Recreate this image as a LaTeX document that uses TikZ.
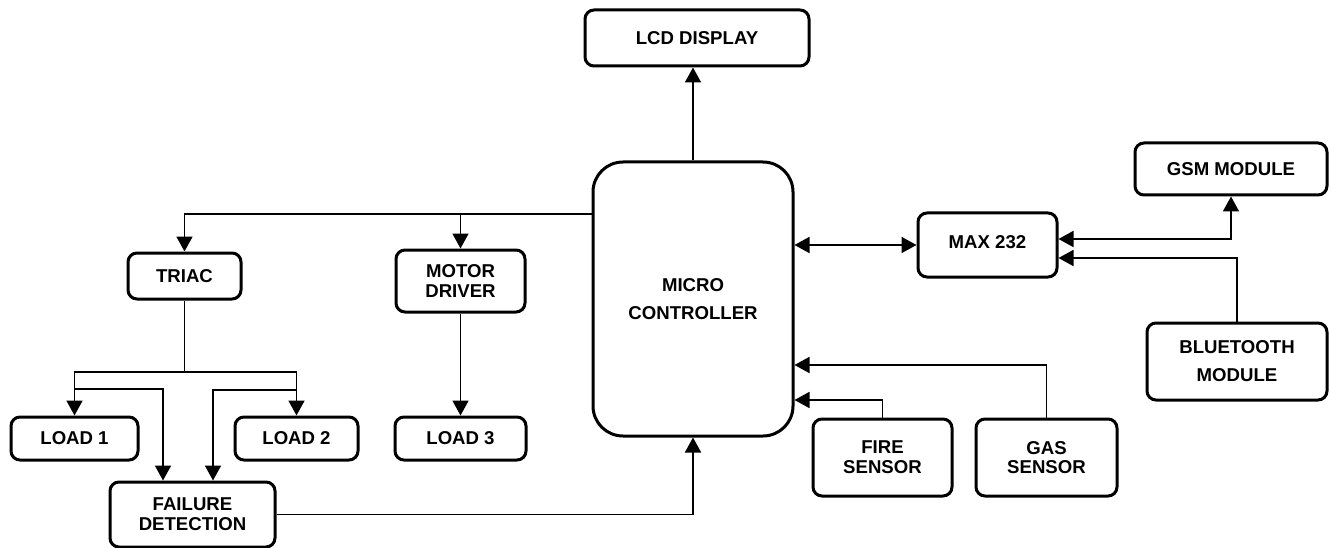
\documentclass[tikz,border=0pt]{standalone}
\usepackage{fontspec}
\setmainfont{Liberation Sans}
\usetikzlibrary{arrows.meta}
\tikzset{
  box/.style={draw, line width=3pt, rounded corners=9pt, align=center, inner sep=0pt,
    font=\bfseries\fontsize{18.6}{19.8}\selectfont},
  conn/.style={line width=1.8pt, -{Triangle[length=15pt,width=16pt]}},
  dconn/.style={line width=1.8pt, {Triangle[length=15pt,width=16pt]}-{Triangle[length=15pt,width=16pt]}},
  plain/.style={line width=1.8pt}
}
\begin{document}
\begin{tikzpicture}[x=1pt,y=-1pt]
\useasboundingbox[fill=white] (0,0) rectangle (1330,548);
% nodes
\node[box, minimum width=224pt, minimum height=56pt] (lcd) at (697,38) {LCD DISPLAY};
\node[box, rounded corners=30pt, minimum width=200pt, minimum height=274pt, font=\bfseries\fontsize{18.6}{28}\selectfont] (mc) at (693,299) {MICRO\\CONTROLLER};
\node[box, minimum width=139pt, minimum height=64pt] (max) at (987.5,245) {\raisebox{5pt}{MAX 232}};
\node[box, minimum width=192pt, minimum height=52pt] (gsm) at (1231,169) {GSM MODULE};
\node[box, minimum width=180pt, minimum height=77pt, font=\bfseries\fontsize{18.6}{28}\selectfont] (bt) at (1237,361.5) {BLUETOOTH\\MODULE};
\node[box, minimum width=139pt, minimum height=77pt] (fire) at (882.5,457.5) {FIRE\\SENSOR};
\node[box, minimum width=141pt, minimum height=77pt] (gas) at (1046.5,457.5) {GAS\\SENSOR};
\node[box, minimum width=113pt, minimum height=46pt] (triac) at (184.5,276) {TRIAC};
\node[box, minimum width=129pt, minimum height=62pt] (motor) at (460.5,281) {MOTOR\\DRIVER};
\node[box, minimum width=127pt, minimum height=43pt] (load1) at (74.5,438.5) {LOAD 1};
\node[box, minimum width=123pt, minimum height=43pt] (load2) at (296.5,438.5) {LOAD 2};
\node[box, minimum width=131pt, minimum height=43pt] (load3) at (460.5,438.5) {LOAD 3};
\node[box, minimum width=165pt, minimum height=65pt] (fail) at (192.5,514.5) {FAILURE\\DETECTION};
% connectors
\draw[conn] (mc.west |- 0,214) -| (triac.north);
\draw[conn] (motor.north |- 0,214) -- (motor.north);
\draw[conn] (motor.south) -- (load3.north);
\draw[plain] (triac.south) -- (triac.south |- 0,372) coordinate (tj);
\draw[conn] (tj) -| (load1.north);
\draw[conn] (tj) -| (load2.north);
\draw[conn] (load1.north |- 0,389) -| ([xshift=-29.5pt]fail.north);
\draw[conn] (load2.north |- 0,390) -| ([xshift=20.5pt]fail.north);
\draw[conn] (fail.east) -| (mc.south);
\draw[conn] (mc.north) -- (mc.north |- lcd.south);
\draw[dconn] (mc.east |- max.west) -- (max.west);
\draw[dconn] (max.east |- 0,239) -| (gsm.south);
\draw[conn] (bt.north) |- (max.east |- 0,258);
\draw[conn] (gas.north) |- (mc.east |- 0,365);
\draw[conn] (fire.north) |- (mc.east |- 0,400);
\end{tikzpicture}
\end{document}
